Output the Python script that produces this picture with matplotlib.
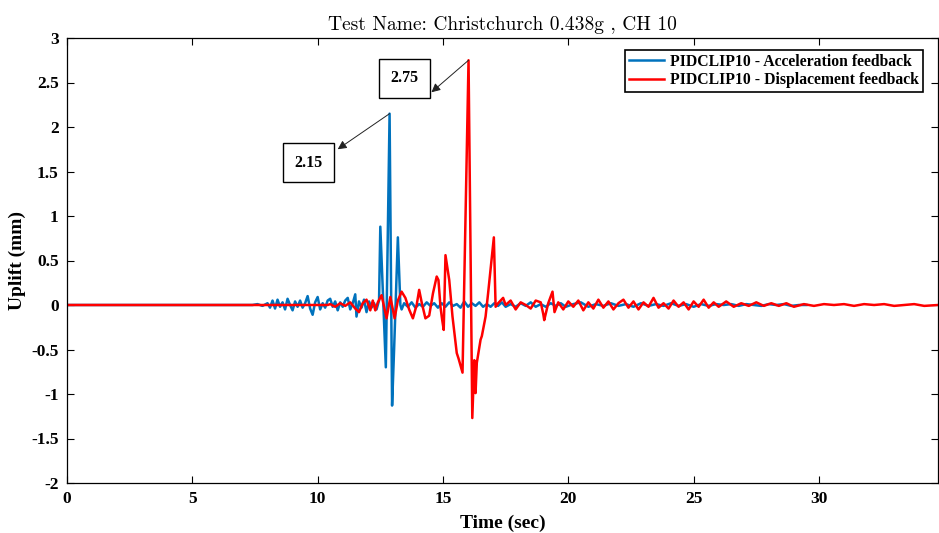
import matplotlib
matplotlib.use("Agg")
import matplotlib.pyplot as plt
import numpy as np

plt.rcParams['font.family'] = ['Liberation Serif', 'DejaVu Serif']

# Uplift response, acceleration feedback (time in s, uplift in mm)
t_acc = [0, 7.4, 7.6, 7.8, 8.0, 8.1, 8.2, 8.3, 8.4, 8.5, 8.6, 8.7, 8.8, 8.9, 9.0,
         9.1, 9.2, 9.3, 9.4, 9.5, 9.6, 9.7, 9.8, 9.9, 10.0, 10.1, 10.2, 10.3, 10.4,
         10.5, 10.6, 10.7, 10.8, 10.9, 11.0, 11.1, 11.2, 11.3, 11.4, 11.5, 11.55,
         11.65, 11.75, 11.85, 11.95, 12.05, 12.15, 12.25, 12.35, 12.45, 12.5, 12.72,
         12.87, 12.97, 13.05, 13.2, 13.3, 13.35, 13.45, 13.6, 13.75, 13.9, 14.05,
         14.2, 14.35, 14.5, 14.65, 14.8, 14.95, 15.1, 15.25, 15.4, 15.55, 15.7,
         15.85, 16.0, 16.15, 16.3, 16.45, 16.6, 16.75, 16.9, 17.05, 17.2, 17.35,
         17.5, 17.7, 17.9, 18.1, 18.3, 18.5, 18.7, 18.9, 19.1, 19.3, 19.5, 19.7,
         19.9, 20.2, 20.5, 20.8, 21.1, 21.4, 21.7, 22.0, 22.3, 22.6, 22.9, 23.2,
         23.5, 23.8, 24.1, 24.4, 24.7, 25.0, 25.3, 25.6, 25.9, 26.2, 26.5, 26.8,
         27.1, 27.4, 27.7, 28.0, 28.3, 28.6, 28.9, 29.2, 29.5]
v_acc = [0, 0, 0.01, -0.01, 0.02, -0.03, 0.05, -0.04, 0.06, -0.02, 0.03, -0.05,
         0.07, 0.0, -0.06, 0.04, -0.02, 0.05, -0.03, 0.02, 0.10, -0.04, -0.11,
         0.03, 0.09, -0.05, 0.02, -0.03, 0.05, 0.07, -0.02, 0.04, -0.06, 0.03,
         -0.02, 0.05, 0.08, -0.05, 0.02, 0.12, -0.13, 0.04, -0.03, 0.06, -0.08,
         0.04, -0.03, 0.02, -0.05, 0.05, 0.88, -0.70, 2.15, -1.13, -0.50, 0.76,
         0.0, -0.05, 0.02, -0.02, 0.03, -0.03, 0.01, -0.02, 0.03, -0.01, 0.02,
         -0.03, 0.02, -0.02, 0.03, -0.01, 0.01, -0.03, 0.04, -0.02, 0.02, -0.01,
         0.03, -0.02, 0.01, -0.02, 0.02, -0.01, 0.03, -0.02, 0.01, -0.02, 0.02,
         -0.01, 0.03, -0.02, 0.01, -0.02, 0.02, -0.01, 0.02, -0.02, 0.01, 0.03,
         -0.02, 0.01, -0.01, 0.02, -0.01, 0.01, -0.02, 0.02, -0.01, 0.01, -0.01,
         0.02, -0.01, 0.01, -0.02, 0.01, -0.01, 0.01, 0.0, 0.01, -0.01, 0.01,
         0.0, -0.01, 0.01, 0.0, 0.01, -0.01, 0.0, 0.0]

# Uplift response, displacement feedback
t_dis = [0, 10.4, 10.5, 10.7, 10.9, 11.1, 11.3, 11.5, 11.65, 11.8, 11.95, 12.1,
         12.2, 12.3, 12.4, 12.55, 12.65, 12.75, 12.9, 13.0, 13.07, 13.2, 13.35,
         13.5, 13.65, 13.8, 13.95, 14.05, 14.15, 14.3, 14.45, 14.6, 14.75, 14.82,
         14.9, 14.97, 15.03, 15.1, 15.25, 15.38, 15.55, 15.62, 15.78, 16.02, 16.17,
         16.25, 16.3, 16.35, 16.5, 16.55, 16.7, 16.8, 17.03, 17.1, 17.2, 17.4, 17.5,
         17.7, 17.9, 18.1, 18.3, 18.5, 18.7, 18.9, 19.0, 19.04, 19.2, 19.37, 19.45,
         19.6, 19.8, 20.0, 20.2, 20.4, 20.6, 20.8, 21.0, 21.2, 21.4, 21.6, 21.8,
         22.0, 22.2, 22.4, 22.6, 22.8, 23.0, 23.2, 23.4, 23.6, 23.8, 24.0, 24.2,
         24.4, 24.6, 24.8, 25.0, 25.2, 25.4, 25.6, 25.8, 26.0, 26.3, 26.6, 26.9,
         27.2, 27.5, 27.8, 28.1, 28.4, 28.7, 29.0, 29.4, 29.8, 30.2, 30.6, 31.0,
         31.4, 31.8, 32.2, 32.6, 33.0, 33.4, 33.8, 34.2, 34.75]
v_dis = [0, 0, 0.01, -0.02, 0.02, -0.01, 0.03, -0.04, -0.08, 0.02, 0.06, -0.06,
         0.05, -0.06, 0.03, 0.11, -0.02, -0.15, 0.09, -0.05, -0.15, 0.05, 0.15,
         0.08, -0.05, -0.15, 0.0, 0.17, 0.03, -0.15, -0.12, 0.13, 0.32, 0.28,
         -0.02, -0.17, -0.28, 0.56, 0.28, -0.13, -0.54, -0.60, -0.76, 2.75, -1.27,
         -0.62, -0.99, -0.65, -0.39, -0.35, -0.13, 0.13, 0.76, -0.02, 0.02, 0.08,
         0.0, 0.05, -0.05, 0.03, 0.0, -0.04, 0.05, 0.03, -0.10, -0.17, 0.02, 0.15,
         -0.08, 0.03, -0.05, 0.04, -0.02, 0.05, -0.06, 0.03, -0.04, 0.06, -0.03,
         0.04, -0.05, 0.02, 0.06, -0.03, 0.04, -0.05, 0.03, -0.02, 0.08, -0.03,
         0.02, -0.04, 0.05, -0.02, 0.03, -0.05, 0.04, -0.02, 0.06, -0.03, 0.03,
         -0.02, 0.04, -0.02, 0.02, -0.01, 0.03, -0.01, 0.02, -0.01, 0.02, -0.02,
         0.01, -0.01, 0.01, 0.0, 0.01, -0.01, 0.01, 0.0, 0.01, -0.01, 0.0, 0.01,
         -0.01, 0.0]

x_ticks = [0, 5, 10, 15, 20, 25, 30]
y_ticks = [-2, -1.5, -1, -0.5, 0, 0.5, 1, 1.5, 2, 2.5, 3]

fig = plt.figure(figsize=(9.39, 5.33), dpi=100)
ax = fig.add_axes([67 / 939, 1 - 483 / 533, (938 - 67) / 939, (483 - 38) / 533])

ax.plot(t_acc, v_acc, color='#0072BD', lw=1.8,
        label='PIDCLIP10 - Acceleration feedback')
ax.plot(t_dis, v_dis, color='#FF0000', lw=1.8,
        label='PIDCLIP10 - Displacement feedback')

ax.set_xlim(0, 34.75)
ax.set_ylim(-2, 3)
ax.set_xticks(x_ticks)
ax.set_yticks(y_ticks)
ax.set_yticklabels([f'{v:g}' for v in y_ticks])
ax.tick_params(direction='in', top=True, right=True, labelsize=12.5, length=5,
               pad=6)
for lbl in ax.get_xticklabels() + ax.get_yticklabels():
    lbl.set_fontweight('bold')
for s in ax.spines.values():
    s.set_linewidth(0.9)

ax.set_xlabel('Time (sec)', fontsize=14, fontweight='bold', labelpad=5)
ax.set_ylabel('Uplift (mm)', fontsize=14, fontweight='bold', labelpad=4)
ax.set_title('Test Name: Christchurch 0.438g , CH 10', fontsize=14,
             family='cmr10', pad=6)

leg = ax.legend(loc='upper right', bbox_to_anchor=((923 - 67) / 871, (483 - 50) / 445),
                prop={'weight': 'bold', 'size': 11.3},
                fancybox=False, edgecolor='black', framealpha=1,
                borderaxespad=0, handlelength=2.2, borderpad=0.25,
                labelspacing=0.15, handletextpad=0.4)
leg.get_frame().set_linewidth(1.2)

# Peak callouts: (box centre, arrow tip at the box edge)
i_acc = int(np.argmax(v_acc))
i_dis = int(np.argmax(v_dis))
callouts = [(t_acc[i_acc], v_acc[i_acc], (9.65, 1.60), (10.80, 1.75)),
            (t_dis[i_dis], v_dis[i_dis], (13.47, 2.55), (14.54, 2.39))]
for ti, vi, (bx, by), (ax_, ay_) in callouts:
    ax.annotate('', xy=(ax_, ay_), xytext=(ti, vi),
                arrowprops=dict(arrowstyle='-|>', color='#222222', lw=0.7,
                                mutation_scale=13, shrinkA=0, shrinkB=0))
    ax.text(bx, by, f'{vi:.2f}', fontsize=11.5, fontweight='bold',
            ha='center', va='center',
            bbox=dict(boxstyle='square,pad=0.72', fc='white', ec='black', lw=1.0))

fig.savefig('out.png', dpi=100)
